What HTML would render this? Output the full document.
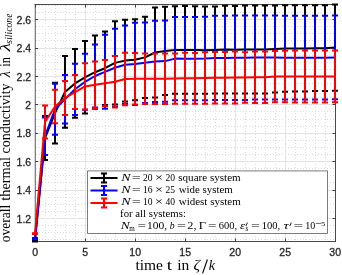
<!DOCTYPE html>
<html><head><meta charset="utf-8"><title>plot</title><style>
html,body{margin:0;padding:0;background:#fff;}body{width:342px;height:275px;overflow:hidden;}svg{display:block;}
</style></head><body>
<svg width="342" height="275" viewBox="0 0 342 275">
<rect width="342" height="275" fill="#fff"/>
<path d="M45.5 5.0V241.0M55.5 5.0V241.0M65.5 5.0V241.0M75.5 5.0V241.0M85.5 5.0V241.0M95.5 5.0V241.0M105.5 5.0V241.0M115.5 5.0V241.0M125.5 5.0V241.0M135.5 5.0V241.0M145.5 5.0V241.0M155.5 5.0V241.0M165.5 5.0V241.0M175.5 5.0V241.0M185.5 5.0V241.0M195.5 5.0V241.0M205.5 5.0V241.0M215.5 5.0V241.0M225.5 5.0V241.0M235.5 5.0V241.0M245.5 5.0V241.0M255.5 5.0V241.0M265.5 5.0V241.0M275.5 5.0V241.0M285.5 5.0V241.0M295.5 5.0V241.0M305.5 5.0V241.0M315.5 5.0V241.0M325.5 5.0V241.0M36.0 239.5H335.0M36.0 232.5H335.0M36.0 225.5H335.0M36.0 218.5H335.0M36.0 211.5H335.0M36.0 204.5H335.0M36.0 197.5H335.0M36.0 190.5H335.0M36.0 182.5H335.0M36.0 175.5H335.0M36.0 168.5H335.0M36.0 161.5H335.0M36.0 154.5H335.0M36.0 147.5H335.0M36.0 140.5H335.0M36.0 133.5H335.0M36.0 126.5H335.0M36.0 119.5H335.0M36.0 111.5H335.0M36.0 104.5H335.0M36.0 97.5H335.0M36.0 90.5H335.0M36.0 83.5H335.0M36.0 76.5H335.0M36.0 69.5H335.0M36.0 62.5H335.0M36.0 55.5H335.0M36.0 48.5H335.0M36.0 40.5H335.0M36.0 33.5H335.0M36.0 26.5H335.0M36.0 19.5H335.0M36.0 12.5H335.0M36.0 5.5H335.0" stroke="#dcdcdc" stroke-width="1" stroke-dasharray="1 2" fill="none"/>
<path d="M85.5 5.0V241.0M135.5 5.0V241.0M185.5 5.0V241.0M235.5 5.0V241.0M285.5 5.0V241.0M36.0 218.5H335.0M36.0 190.5H335.0M36.0 161.5H335.0M36.0 133.5H335.0M36.0 104.5H335.0M36.0 76.5H335.0M36.0 48.5H335.0M36.0 19.5H335.0" stroke="#e3e3e3" stroke-width="1" fill="none"/>
<path d="M35.25 4.5V241.5" stroke="#5a5a5a" stroke-width="1" fill="none"/>
<path d="M335.5 4.5V241.5M34.5 4.5H336.0M34.5 241.5H336.0" stroke="#4a4a4a" stroke-width="1" fill="none"/>
<path d="M35.5 241.5v-3M35.5 4.5v3M85.5 241.5v-3M85.5 4.5v3M135.5 241.5v-3M135.5 4.5v3M185.5 241.5v-3M185.5 4.5v3M235.5 241.5v-3M235.5 4.5v3M285.5 241.5v-3M285.5 4.5v3M335.5 241.5v-3M335.5 4.5v3M35.0 218.5h3M335.5 218.5h-3M35.0 190.5h3M335.5 190.5h-3M35.0 161.5h3M335.5 161.5h-3M35.0 133.5h3M335.5 133.5h-3M35.0 104.5h3M335.5 104.5h-3M35.0 76.5h3M335.5 76.5h-3M35.0 48.5h3M335.5 48.5h-3M35.0 19.5h3M335.5 19.5h-3" stroke="#404040" stroke-width="1" fill="none"/>
<path d="M35.0 240.6V241.4M32.0 240.6h6M32.0 241.4h6M45.0 116.1V160.0M42.0 116.1h6M42.0 160.0h6M55.0 82.8V143.5M52.0 82.8h6M52.0 143.5h6M65.0 56.0V127.8M62.0 56.0h6M62.0 127.8h6M75.0 49.0V117.8M72.0 49.0h6M72.0 117.8h6M85.0 41.0V113.6M82.0 41.0h6M82.0 113.6h6M95.0 35.6V108.7M92.0 35.6h6M92.0 108.7h6M105.0 31.5V104.9M102.0 31.5h6M102.0 104.9h6M115.0 21.2V104.6M112.0 21.2h6M112.0 104.6h6M125.0 19.7V101.4M122.0 19.7h6M122.0 101.4h6M135.0 19.3V100.3M132.0 19.3h6M132.0 100.3h6M145.0 16.8V98.0M142.0 16.8h6M142.0 98.0h6M155.0 7.6V97.4M152.0 7.6h6M152.0 97.4h6M165.0 6.7V95.0M162.0 6.7h6M162.0 95.0h6M175.0 6.3V93.8M172.0 6.3h6M172.0 93.8h6M185.0 6.1V93.8M182.0 6.1h6M182.0 93.8h6M195.0 6.3V93.8M192.0 6.3h6M192.0 93.8h6M205.0 6.6V93.8M202.0 6.6h6M202.0 93.8h6M215.0 6.6V93.5M212.0 6.6h6M212.0 93.5h6M225.0 5.8V93.5M222.0 5.8h6M222.0 93.5h6M235.0 6.1V93.5M232.0 6.1h6M232.0 93.5h6M245.0 5.4V93.5M242.0 5.4h6M242.0 93.5h6M255.0 5.4V93.5M252.0 5.4h6M252.0 93.5h6M265.0 5.4V93.5M262.0 5.4h6M262.0 93.5h6M275.0 5.4V92.6M272.0 5.4h6M272.0 92.6h6M285.0 5.3V91.8M282.0 5.3h6M282.0 91.8h6M295.0 5.3V91.6M292.0 5.3h6M292.0 91.6h6M305.0 5.3V91.6M302.0 5.3h6M302.0 91.6h6M315.0 5.3V91.1M312.0 5.3h6M312.0 91.1h6M325.0 5.3V91.1M322.0 5.3h6M322.0 91.1h6M335.0 4.4V90.8M332.0 4.4h6M332.0 90.8h6" stroke="#000" stroke-width="2" fill="none"/><polyline points="35.0,241.0 45.0,138.1 55.0,113.2 65.0,91.9 75.0,83.4 85.0,77.3 95.0,72.2 105.0,68.2 115.0,62.9 125.0,60.6 135.0,59.8 145.0,57.4 155.0,52.5 165.0,50.9 175.0,50.0 185.0,49.9 195.0,50.0 205.0,50.2 215.0,50.0 225.0,49.6 235.0,49.8 245.0,49.5 255.0,49.5 265.0,49.5 275.0,49.0 285.0,48.5 295.0,48.4 305.0,48.4 315.0,48.2 325.0,48.2 335.0,47.6" stroke="#000" stroke-width="2" fill="none" stroke-linejoin="round"/>
<path d="M35.0 237.9V239.2M32.0 237.9h6M32.0 239.2h6M45.0 117.4V155.1M42.0 117.4h6M42.0 155.1h6M55.0 83.8V134.8M52.0 83.8h6M52.0 134.8h6M65.0 75.1V123.5M62.0 75.1h6M62.0 123.5h6M75.0 63.7V114.9M72.0 63.7h6M72.0 114.9h6M85.0 53.8V109.8M82.0 53.8h6M82.0 109.8h6M95.0 44.6V107.4M92.0 44.6h6M92.0 107.4h6M105.0 34.8V108.8M102.0 34.8h6M102.0 108.8h6M115.0 28.8V106.7M112.0 28.8h6M112.0 106.7h6M125.0 25.6V103.8M122.0 25.6h6M122.0 103.8h6M135.0 22.8V105.0M132.0 22.8h6M132.0 105.0h6M145.0 22.4V102.9M142.0 22.4h6M142.0 102.9h6M155.0 20.8V102.0M152.0 20.8h6M152.0 102.0h6M165.0 20.5V101.7M162.0 20.5h6M162.0 101.7h6M175.0 17.0V100.2M172.0 17.0h6M172.0 100.2h6M185.0 17.1V100.2M182.0 17.1h6M182.0 100.2h6M195.0 17.1V100.2M192.0 17.1h6M192.0 100.2h6M205.0 16.8V100.2M202.0 16.8h6M202.0 100.2h6M215.0 15.8V99.9M212.0 15.8h6M212.0 99.9h6M225.0 15.8V99.9M222.0 15.8h6M222.0 99.9h6M235.0 15.4V99.9M232.0 15.4h6M232.0 99.9h6M245.0 15.4V99.9M242.0 15.4h6M242.0 99.9h6M255.0 15.4V99.6M252.0 15.4h6M252.0 99.6h6M265.0 15.4V99.6M262.0 15.4h6M262.0 99.6h6M275.0 15.4V99.6M272.0 15.4h6M272.0 99.6h6M285.0 15.8V99.6M282.0 15.8h6M282.0 99.6h6M295.0 15.8V99.6M292.0 15.8h6M292.0 99.6h6M305.0 15.8V99.6M302.0 15.8h6M302.0 99.6h6M315.0 15.8V99.6M312.0 15.8h6M312.0 99.6h6M325.0 15.8V99.6M322.0 15.8h6M322.0 99.6h6M335.0 15.4V99.3M332.0 15.4h6M332.0 99.3h6" stroke="#00f" stroke-width="2" fill="none"/><polyline points="35.0,238.6 45.0,136.2 55.0,109.3 65.0,99.3 75.0,89.3 85.0,81.8 95.0,76.0 105.0,71.8 115.0,67.8 125.0,64.7 135.0,63.9 145.0,62.7 155.0,61.4 165.0,61.1 175.0,58.6 185.0,58.7 195.0,58.7 205.0,58.5 215.0,57.9 225.0,57.9 235.0,57.7 245.0,57.7 255.0,57.5 265.0,57.5 275.0,57.5 285.0,57.7 295.0,57.7 305.0,57.7 315.0,57.7 325.0,57.7 335.0,57.4" stroke="#00f" stroke-width="2" fill="none" stroke-linejoin="round"/>
<path d="M35.0 233.2V233.9M32.0 233.2h6M32.0 233.9h6M45.0 105.5V138.4M42.0 105.5h6M42.0 138.4h6M55.0 89.8V123.2M52.0 89.8h6M52.0 123.2h6M65.0 81.0V114.9M62.0 81.0h6M62.0 114.9h6M75.0 75.1V109.1M72.0 75.1h6M72.0 109.1h6M85.0 63.3V109.5M82.0 63.3h6M82.0 109.5h6M95.0 61.4V108.3M92.0 61.4h6M92.0 108.3h6M105.0 60.0V106.3M102.0 60.0h6M102.0 106.3h6M115.0 56.0V107.6M112.0 56.0h6M112.0 107.6h6M125.0 52.7V105.3M122.0 52.7h6M122.0 105.3h6M135.0 53.0V104.6M132.0 53.0h6M132.0 104.6h6M145.0 53.4V104.0M142.0 53.4h6M142.0 104.0h6M155.0 53.4V104.0M152.0 53.4h6M152.0 104.0h6M165.0 53.4V104.0M162.0 53.4h6M162.0 104.0h6M175.0 53.4V103.7M172.0 53.4h6M172.0 103.7h6M185.0 52.7V103.7M182.0 52.7h6M182.0 103.7h6M195.0 53.0V103.7M192.0 53.0h6M192.0 103.7h6M205.0 52.2V103.7M202.0 52.2h6M202.0 103.7h6M215.0 52.0V103.4M212.0 52.0h6M212.0 103.4h6M225.0 52.0V103.4M222.0 52.0h6M222.0 103.4h6M235.0 51.6V103.4M232.0 51.6h6M232.0 103.4h6M245.0 52.2V102.8M242.0 52.2h6M242.0 102.8h6M255.0 51.6V103.1M252.0 51.6h6M252.0 103.1h6M265.0 51.5V103.1M262.0 51.5h6M262.0 103.1h6M275.0 50.9V102.3M272.0 50.9h6M272.0 102.3h6M285.0 50.8V102.3M282.0 50.8h6M282.0 102.3h6M295.0 50.6V102.5M292.0 50.6h6M292.0 102.5h6M305.0 50.6V102.5M302.0 50.6h6M302.0 102.5h6M315.0 50.6V102.5M312.0 50.6h6M312.0 102.5h6M325.0 50.6V102.5M322.0 50.6h6M322.0 102.5h6M335.0 50.6V102.3M332.0 50.6h6M332.0 102.3h6" stroke="#f00" stroke-width="2" fill="none"/><polyline points="35.0,233.6 45.0,122.0 55.0,106.5 65.0,98.0 75.0,92.1 85.0,86.4 95.0,84.8 105.0,83.2 115.0,81.8 125.0,79.0 135.0,78.8 145.0,78.7 155.0,78.7 165.0,78.7 175.0,78.5 185.0,78.2 195.0,78.3 205.0,78.0 215.0,77.7 225.0,77.7 235.0,77.5 245.0,77.5 255.0,77.3 265.0,77.3 275.0,76.6 285.0,76.5 295.0,76.5 305.0,76.5 315.0,76.5 325.0,76.5 335.0,76.5" stroke="#f00" stroke-width="2" fill="none" stroke-linejoin="round"/>
<filter id="gf"><feColorMatrix type="identity"/></filter><g filter="url(#gf)">
<text x="31.2" y="222.6" text-anchor="end" style="font-family:'Liberation Sans',sans-serif;font-size:10.5px" fill="#262626" stroke="#262626" stroke-width="0.3">1.2</text>
<text x="31.2" y="194.2" text-anchor="end" style="font-family:'Liberation Sans',sans-serif;font-size:10.5px" fill="#262626" stroke="#262626" stroke-width="0.3">1.4</text>
<text x="31.2" y="165.8" text-anchor="end" style="font-family:'Liberation Sans',sans-serif;font-size:10.5px" fill="#262626" stroke="#262626" stroke-width="0.3">1.6</text>
<text x="31.2" y="137.4" text-anchor="end" style="font-family:'Liberation Sans',sans-serif;font-size:10.5px" fill="#262626" stroke="#262626" stroke-width="0.3">1.8</text>
<text x="31.2" y="109.0" text-anchor="end" style="font-family:'Liberation Sans',sans-serif;font-size:10.5px" fill="#262626" stroke="#262626" stroke-width="0.3">2</text>
<text x="31.2" y="80.6" text-anchor="end" style="font-family:'Liberation Sans',sans-serif;font-size:10.5px" fill="#262626" stroke="#262626" stroke-width="0.3">2.2</text>
<text x="31.2" y="52.2" text-anchor="end" style="font-family:'Liberation Sans',sans-serif;font-size:10.5px" fill="#262626" stroke="#262626" stroke-width="0.3">2.4</text>
<text x="31.2" y="23.8" text-anchor="end" style="font-family:'Liberation Sans',sans-serif;font-size:10.5px" fill="#262626" stroke="#262626" stroke-width="0.3">2.6</text>
<text x="35.2" y="255.9" text-anchor="middle" style="font-family:'Liberation Sans',sans-serif;font-size:10.5px" fill="#262626" stroke="#262626" stroke-width="0.3">0</text>
<text x="85.2" y="255.9" text-anchor="middle" style="font-family:'Liberation Sans',sans-serif;font-size:10.5px" fill="#262626" stroke="#262626" stroke-width="0.3">5</text>
<text x="135.2" y="255.9" text-anchor="middle" style="font-family:'Liberation Sans',sans-serif;font-size:10.5px" fill="#262626" stroke="#262626" stroke-width="0.3">10</text>
<text x="185.2" y="255.9" text-anchor="middle" style="font-family:'Liberation Sans',sans-serif;font-size:10.5px" fill="#262626" stroke="#262626" stroke-width="0.3">15</text>
<text x="235.2" y="255.9" text-anchor="middle" style="font-family:'Liberation Sans',sans-serif;font-size:10.5px" fill="#262626" stroke="#262626" stroke-width="0.3">20</text>
<text x="285.2" y="255.9" text-anchor="middle" style="font-family:'Liberation Sans',sans-serif;font-size:10.5px" fill="#262626" stroke="#262626" stroke-width="0.3">25</text>
<text x="335.2" y="255.9" text-anchor="middle" style="font-family:'Liberation Sans',sans-serif;font-size:10.5px" fill="#262626" stroke="#262626" stroke-width="0.3">30</text>
<text transform="translate(135.44,269.5) scale(1.0346,1.0)" style="font-family:'Liberation Serif',serif;font-size:15px" fill="#000">time</text>
<text transform="translate(166.71,269.5) scale(1.2911,1.0)" style="font-family:'Liberation Serif',serif;font-size:15px" fill="#000">t</text>
<text transform="translate(177.19,269.5) scale(1.0314,1.0)" style="font-family:'Liberation Serif',serif;font-size:15px" fill="#000">in</text>
<text transform="translate(193.56,269.5) scale(1.0781,1.0)" style="font-family:'Liberation Serif',serif;font-style:italic;font-size:15px" fill="#000">ζ</text>
<path d="M202.6 273.4L207.4 259.5" stroke="#000" stroke-width="1.1" fill="none"/>
<text transform="translate(208.87,269.5) scale(0.9457,1.0)" style="font-family:'Liberation Serif',serif;font-style:italic;font-size:15px" fill="#000">k</text>
<text transform="translate(10.0,242.19) rotate(-90) scale(0.8995,1.0)" style="font-family:'Liberation Serif',serif;font-size:15px" fill="#000">overall</text>
<text transform="translate(10.0,200.74) rotate(-90) scale(0.9548,1.0)" style="font-family:'Liberation Serif',serif;font-size:15px" fill="#000">thermal</text>
<text transform="translate(10.0,153.52) rotate(-90) scale(0.9368,1.0)" style="font-family:'Liberation Serif',serif;font-size:15px" fill="#000">conductivity</text>
<text transform="translate(10.0,77.37) rotate(-90) scale(0.9457,1.0)" style="font-family:'Liberation Serif',serif;font-style:italic;font-size:15px" fill="#000">λ</text>
<text transform="translate(10.0,66.64) rotate(-90) scale(0.8161,1.0)" style="font-family:'Liberation Serif',serif;font-size:15px" fill="#000">in</text>
<text transform="translate(10.0,51.36) rotate(-90) scale(1.2713,1.0)" style="font-family:'Liberation Serif',serif;font-style:italic;font-size:15px" fill="#000">λ</text>
<text transform="translate(11.7,43.64) rotate(-90) scale(0.9226,1.0)" style="font-family:'Liberation Serif',serif;font-style:italic;font-size:10.5px" fill="#000">silicone</text>
<rect x="87.5" y="170.5" width="240" height="63" fill="#fff"/>
<path d="M87.5 170.9V233.5H327.5V170.9Z" fill="none" stroke="#262626" stroke-width="1" stroke-opacity="0.6"/>
<path d="M90.5 178.1H117.5M104 173.6V182.6M101 173.6h6M101 182.6h6" stroke="#000" stroke-width="2" fill="none"/>
<path d="M90.5 190.6H117.5M104 186.1V195.1M101 186.1h6M101 195.1h6" stroke="#00f" stroke-width="2" fill="none"/>
<path d="M90.5 203.1H117.5M104 198.6V207.6M101 198.6h6M101 207.6h6" stroke="#f00" stroke-width="2" fill="none"/>
<text transform="translate(121.23,181.0) scale(1.2704,1.0)" style="font-family:'Liberation Serif',serif;font-style:italic;font-size:11px" fill="#000">N</text>
<text transform="translate(131.70,181.0) scale(1.4510,1.0)" style="font-family:'Liberation Serif',serif;font-size:11px" fill="#000">=</text>
<text transform="translate(143.06,181.0) scale(0.8713,1)" style="font-family:'Liberation Serif',serif;font-size:11px" fill="#000">20</text>
<text transform="translate(155.05,181.0) scale(1.2809,1.0)" style="font-family:'Liberation Serif',serif;font-size:11px" fill="#000">×</text>
<text transform="translate(165.46,181.0) scale(0.8713,1)" style="font-family:'Liberation Serif',serif;font-size:11px" fill="#000">20</text>
<text transform="translate(178.25,181.0) scale(1.0081,1.0)" style="font-family:'Liberation Serif',serif;font-size:11px" fill="#000">square system</text>
<text transform="translate(121.23,193.0) scale(1.2704,1.0)" style="font-family:'Liberation Serif',serif;font-style:italic;font-size:11px" fill="#000">N</text>
<text transform="translate(131.70,193.0) scale(1.4510,1.0)" style="font-family:'Liberation Serif',serif;font-size:11px" fill="#000">=</text>
<text transform="translate(143.06,193.0) scale(0.8713,1)" style="font-family:'Liberation Serif',serif;font-size:11px" fill="#000">16</text>
<text transform="translate(155.05,193.0) scale(1.2809,1.0)" style="font-family:'Liberation Serif',serif;font-size:11px" fill="#000">×</text>
<text transform="translate(165.46,193.0) scale(0.8713,1)" style="font-family:'Liberation Serif',serif;font-size:11px" fill="#000">25</text>
<text transform="translate(178.70,193.0) scale(0.9899,1.0)" style="font-family:'Liberation Serif',serif;font-size:11px" fill="#000">wide system</text>
<text transform="translate(121.23,204.9) scale(1.2704,1.0)" style="font-family:'Liberation Serif',serif;font-style:italic;font-size:11px" fill="#000">N</text>
<text transform="translate(131.70,204.9) scale(1.4510,1.0)" style="font-family:'Liberation Serif',serif;font-size:11px" fill="#000">=</text>
<text transform="translate(143.06,204.9) scale(0.8713,1)" style="font-family:'Liberation Serif',serif;font-size:11px" fill="#000">10</text>
<text transform="translate(155.05,204.9) scale(1.2809,1.0)" style="font-family:'Liberation Serif',serif;font-size:11px" fill="#000">×</text>
<text transform="translate(165.46,204.9) scale(0.8713,1)" style="font-family:'Liberation Serif',serif;font-size:11px" fill="#000">40</text>
<text transform="translate(178.70,204.9) scale(1.0008,1.0)" style="font-family:'Liberation Serif',serif;font-size:11px" fill="#000">widest system</text>
<text transform="translate(120.06,216.6) scale(0.9810,1.0)" style="font-family:'Liberation Serif',serif;font-size:11px" fill="#000">for all systems:</text>
<text transform="translate(120.72,228.8) scale(1.2201,1.0)" style="font-family:'Liberation Serif',serif;font-style:italic;font-size:11px" fill="#000">N</text>
<text transform="translate(129.27,230.60000000000002) scale(0.8908,1.0)" style="font-family:'Liberation Serif',serif;font-size:8px" fill="#000">m</text>
<text transform="translate(137.45,228.8) scale(1.3725,1.0)" style="font-family:'Liberation Serif',serif;font-size:11px" fill="#000">=</text>
<text transform="translate(147.11,228.8) scale(1.0455,1.0)" style="font-family:'Liberation Serif',serif;font-size:11px" fill="#000">100,</text>
<text transform="translate(169.65,228.8) scale(0.8842,1.0)" style="font-family:'Liberation Serif',serif;font-style:italic;font-size:11px" fill="#000">b</text>
<text transform="translate(176.89,228.8) scale(1.4706,1.0)" style="font-family:'Liberation Serif',serif;font-size:11px" fill="#000">=</text>
<text transform="translate(187.24,228.8) scale(1.1206,1.0)" style="font-family:'Liberation Serif',serif;font-size:11px" fill="#000">2,</text>
<text transform="translate(198.76,228.8) scale(1.1404,1.0)" style="font-family:'Liberation Serif',serif;font-size:11px" fill="#000">Γ</text>
<text transform="translate(207.95,228.8) scale(1.3725,1.0)" style="font-family:'Liberation Serif',serif;font-size:11px" fill="#000">=</text>
<text transform="translate(218.77,228.8) scale(0.9558,1.0)" style="font-family:'Liberation Serif',serif;font-size:11px" fill="#000">600,</text>
<text transform="translate(239.90,228.8) scale(1.1852,1.0)" style="font-family:'Liberation Serif',serif;font-style:italic;font-size:11px" fill="#000">ε</text>
<path d="M245.9 226.0L247.4 222.6M289.8 226.0L291.3 222.6" stroke="#000" stroke-width="0.9" fill="none"/>
<text transform="translate(245.51,231.2) scale(0.9091,1.0)" style="font-family:'Liberation Serif',serif;font-style:italic;font-size:8px" fill="#000">s</text>
<text transform="translate(250.90,228.8) scale(1.4510,1.0)" style="font-family:'Liberation Serif',serif;font-size:11px" fill="#000">=</text>
<text transform="translate(261.79,228.8) scale(0.9602,1.0)" style="font-family:'Liberation Serif',serif;font-size:11px" fill="#000">100,</text>
<text transform="translate(283.57,228.8) scale(1.3250,1.0)" style="font-family:'Liberation Serif',serif;font-style:italic;font-size:11px" fill="#000">τ</text>
<text transform="translate(293.55,228.8) scale(1.5490,1.0)" style="font-family:'Liberation Serif',serif;font-size:11px" fill="#000">=</text>
<text transform="translate(305.23,228.8) scale(0.9119,1.0)" style="font-family:'Liberation Serif',serif;font-size:11px" fill="#000">10</text>
<path d="M315.8 223.4H321" stroke="#000" stroke-width="0.6" fill="none"/>
<text transform="translate(320.99,225.6) scale(1.4583,1.0)" style="font-family:'Liberation Serif',serif;font-size:6px" fill="#000">5</text>
</g>
</svg></body></html>
